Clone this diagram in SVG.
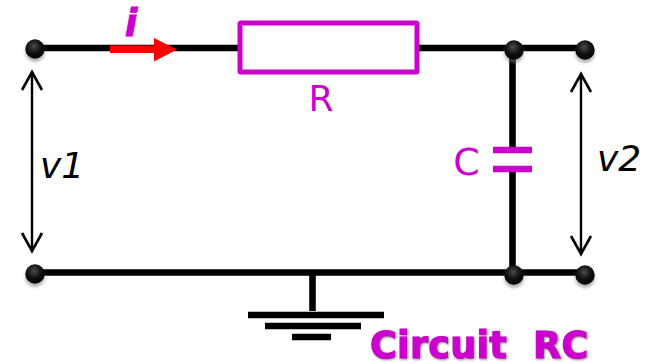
<svg xmlns="http://www.w3.org/2000/svg" width="648" height="363" viewBox="0 0 648 363">
<defs>
<radialGradient id="ball" cx="0.45" cy="0.35" r="0.65"><stop offset="0" stop-color="#4a4a4a"/><stop offset="0.55" stop-color="#111"/><stop offset="1" stop-color="#000"/></radialGradient>
<filter id="sh" x="-50%" y="-50%" width="200%" height="220%"><feGaussianBlur stdDeviation="1.6"/></filter>
<g id="dot"><ellipse cx="0" cy="3" rx="10" ry="10" fill="#777" opacity="0.55" filter="url(#sh)"/><circle r="9.700" fill="url(#ball)"/></g>
<marker id="open" viewBox="0 0 24 24" refX="21" refY="12" markerWidth="24" markerHeight="24" markerUnits="userSpaceOnUse" orient="auto-start-reverse"><path d="M3 2 L21 12 L3 22" fill="none" stroke="#000" stroke-width="2.600"/></marker>
</defs>
<style>
.w{stroke:#000;stroke-width:6.600;fill:none}
.t{font-family:"DejaVu Sans",Verdana,sans-serif}
.m{fill:#cc00cc}
.a{stroke:#000;stroke-width:2.400;fill:none;marker-start:url(#open);marker-end:url(#open)}
</style>
<rect width="648" height="363" fill="#fff"/>
<g id="connectors">
<path class="w" d="M35 48H240M417 48H585"/>
<path class="w" d="M35 272.500H585"/>
<path class="w" d="M512.500 50V148M512.500 171V274"/>
<path class="w" d="M312.500 274V311"/>
<path class="w" d="M248 315H384M265 326H361M292 337H331"/>
<path class="a" d="M32 72V251"/>
<path class="a" d="M581 74V254"/>
</g>
<g id="resistor"><rect x="240" y="23" width="177" height="49" fill="#fff" stroke="#cc00cc" stroke-width="5" rx="1"/><text class="t m" x="321" y="111" font-size="36" text-anchor="middle">R</text></g>
<g id="capacitor"><path d="M493 150H532M493 169H532" stroke="#cc00cc" stroke-width="6.500" fill="none"/><text class="t m" x="466.500" y="175" font-size="38" text-anchor="middle">C</text></g>
<g id="current"><path d="M110 45.500H154V38L177 49.500L154 61.500V53H110Z" fill="#f00"/><text class="t m" x="131" y="36" font-size="37" font-weight="bold" font-style="italic" text-anchor="middle" stroke="#cc00cc" stroke-width="0.800">i</text></g>
<g id="n1"><use href="#dot" x="35" y="49"/></g>
<g id="n2"><use href="#dot" x="514" y="50"/></g>
<g id="n3"><use href="#dot" x="585" y="50"/></g>
<g id="n4"><use href="#dot" x="35" y="274"/></g>
<g id="n5"><use href="#dot" x="514" y="275"/></g>
<g id="n6"><use href="#dot" x="585" y="275"/></g>
<g id="v1"><text class="t" x="40" y="178" font-size="36" font-style="italic">v1</text></g>
<g id="v2"><text class="t" x="597" y="171" font-size="36" font-style="italic">v2</text></g>
<g id="title"><text class="t m" x="370" y="358" font-size="36.500" font-weight="bold" letter-spacing="0.300" stroke="#cc00cc" stroke-width="1.100" xml:space="preserve" style="white-space:pre;filter:drop-shadow(1px 1px 1px #888)">Circuit  RC</text></g>
</svg>
